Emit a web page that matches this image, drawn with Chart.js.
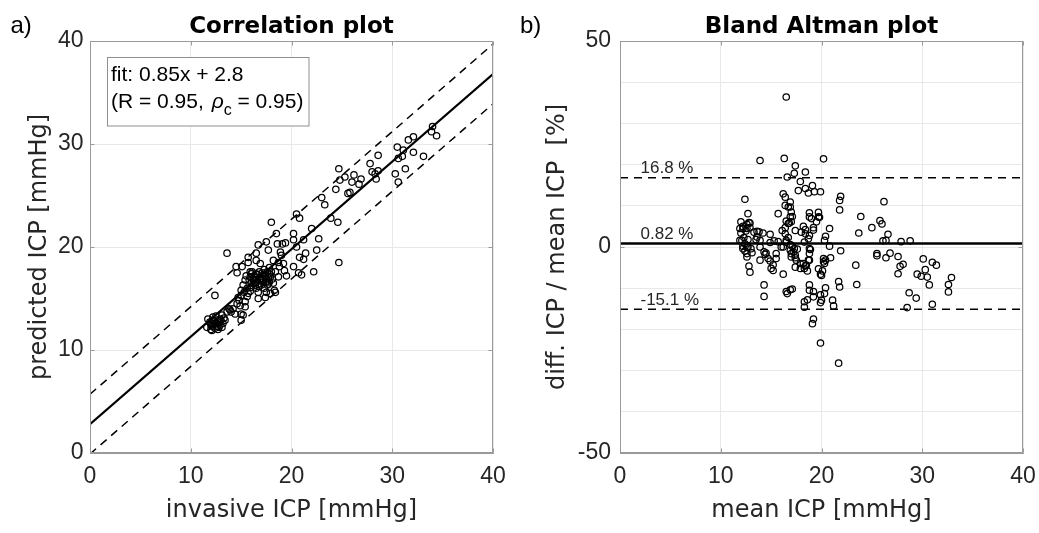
<!DOCTYPE html>
<html><head><meta charset="utf-8">
<script src="https://cdn.jsdelivr.net/npm/chart.js@4.4.1/dist/chart.umd.min.js"></script>
<style>
html,body{margin:0;padding:0;background:#fff;}
#wrap{position:relative;width:1039px;height:533px;overflow:hidden;background:#fff;}
.pane{position:absolute;top:0;height:533px;}
</style></head><body>
<div id="wrap">
<div class="pane" style="left:0;width:520px"><canvas id="c1"></canvas></div>
<div class="pane" style="left:515px;width:524px"><canvas id="c2"></canvas></div>
</div>
<script>
// ---------- data: correlation plot ----------
const corrInvasive = [34.0,33.9,34.4,33.1,32.1,31.6,32.1,30.5,31.1,30.6,31.0,31.3,30.3,30.6,28.6,27.8,28.0,28.6,28.4,28.3,26.9,26.2,26.7,26.0,25.8,24.7,24.8,25.3,24.4,23.0,23.3,23.9,24.6,24.7,22.0,22.7,22.5,22.2,20.5,20.8,20.2,20.2,20.5,20.8,21.2,21.2,21.4,20.7,21.0,20.2,19.5,18.0,18.5,19.1,18.9,18.7,19.2,18.2,17.7,16.7,16.5,15.7,17.5,13.6,14.5,15.1,15.9,16.5,17.4,17.9,15.5,16.2,17.0,17.5,15.2,16.0,16.7,17.6,18.3,17.5,16.7,15.7,15.0,14.7,15.4,14.9,15.4,12.4,14.2,13.9,13.6,15.0,15.2,13.1,12.9,12.2,11.7,12.6,12.0,11.6,12.4,12.9,13.2,13.4,12.1,12.7,15.7,16.5,14.6,15.4,15.9,16.2,16.5,16.9,17.2,17.5,17.9,16.4,17.0,17.7,18.4,18.8,19.3,18.7,18.4,17.4,17.9,15.0,16.7,14.4,15.0,16.0,16.8,17.3,16.3,17.1,18.1,12.3,12.8,11.9,13.0,12.5,16.9,17.8,19.0,18.6,19.4,25.6,16.1,16.4,16.6,16.9,17.1,17.4,17.7,17.8,16.3,16.8,17.3,15.8,16.0,17.6,18.0,18.2,15.6,15.9,16.5,17.2,12.1,12.3,12.6,12.8,12.4,12.0,13.1,12.7,13.3,12.2,13.8,14.0,14.6,14.8,15.3,15.6];
const corrPredicted = [31.7,31.2,30.8,28.8,30.7,30.4,29.2,29.7,29.4,28.6,28.8,27.6,27.1,26.3,28.9,28.1,27.3,27.4,26.6,27.1,26.6,27.0,26.1,26.3,25.3,27.6,26.5,26.8,25.6,24.8,24.1,22.8,22.4,18.5,21.8,20.8,19.7,17.6,23.2,22.8,21.3,20.7,20.0,19.0,20.7,18.8,19.4,17.5,17.3,18.1,17.2,22.4,21.3,20.3,19.5,18.5,18.4,18.7,19.7,20.2,19.4,19.0,20.5,19.4,18.1,18.1,17.6,17.4,17.2,17.1,17.2,16.8,16.8,16.6,16.3,16.1,16.4,16.3,15.8,15.6,15.6,15.5,15.3,15.1,14.7,14.3,14.2,15.3,14.0,13.9,13.7,13.5,13.4,13.4,13.0,12.9,13.0,12.6,12.4,12.2,12.1,12.4,12.6,12.9,11.9,12.7,18.5,18.7,17.5,16.8,17.1,16.9,16.8,17.1,17.3,16.9,17.3,16.3,16.3,16.4,17.6,18.1,17.7,17.1,15.6,15.1,15.5,15.8,15.0,13.5,12.9,17.4,17.6,17.8,17.2,16.6,16.9,12.5,12.2,12.7,12.9,13.3,18.4,18.0,19.2,20.3,20.4,25.2,17.6,17.0,17.3,16.9,17.5,16.6,17.0,16.6,16.5,16.2,16.0,16.8,16.5,17.6,17.6,16.5,16.0,15.7,16.0,16.9,12.3,12.8,12.3,12.8,12.6,12.0,12.2,12.0,13.1,13.2,14.0,13.7,14.5,14.8,15.6,15.2];
const fitLineX = [0, 40];
const fitLineY = [2.8, 36.8];
const upperLineY = [5.7, 39.7];
const lowerLineY = [-0.1, 33.9];
const fitText = ['fit: 0.85x + 2.8', '(R = 0.95, ', 'ρ', 'c', ' = 0.95)'];
const corrTicks = [0, 10, 20, 30, 40];

// ---------- data: Bland Altman plot ----------
const baMean = [16.5,13.9,16.3,20.2,17.4,18.4,17.3,16.6,17.9,19.1,17.7,18.4,18.7,19.3,19.9,21.9,16.2,16.4,12.4,26.2,16.9,16.4,16.9,17.0,21.8,15.7,12.7,18.8,19.7,19.0,19.8,23.9,25.8,26.0,12.0,12.8,12.6,12.9,16.5,16.8,17.1,11.9,12.2,12.5,13.3,13.6,13.8,14.2,14.9,16.1,16.4,17.4,18.2,18.4,19.2,18.8,20.8,20.4,23.7,25.0,26.6,26.1,26.4,27.9,28.8,11.9,12.3,12.7,12.2,12.6,13.0,13.5,13.9,14.9,15.3,15.7,16.2,16.5,16.7,16.9,17.1,17.3,17.6,18.3,18.8,18.9,20.8,21.9,25.5,25.5,26.8,26.4,12.4,12.6,13.1,13.9,14.5,14.4,14.9,15.2,15.5,17.0,17.4,17.5,17.9,18.2,18.4,18.8,18.6,20.2,20.4,20.9,23.4,27.6,27.8,28.1,27.6,30.1,30.3,31.0,31.4,29.5,29.9,30.5,30.7,32.9,32.6,32.6,12.8,12.9,16.2,19.7,19.9,20.1,14.3,14.3,16.5,16.6,16.9,17.1,18.8,19.2,19.9,20.4,21.7,21.1,18.3,18.6,19.9,23.5,28.7,29.4,28.5,31.0,19.2,19.1,19.9,21.7,12.2,12.0,12.6,12.9,12.1,12.4,12.2,12.7,12.6,13.6,13.9,14.3,14.7,15.0,15.2,15.5,16.0,16.4,16.5,16.7,16.9,17.0,16.7,16.9,17.2,17.0,17.4,17.4,17.9,18.3,18.5,18.7,18.8,18.0,18.4,18.7,19.2,19.5,18.8,19.7,20.3,20.2,20.3,20.0,20.3,20.0,18.8,19.2,18.3,21.8,21.2,21.8];
const baDiff = [36.4,21.0,21.5,21.4,19.7,18.2,17.9,17.0,15.9,14.9,13.7,14.2,13.1,13.4,13.4,12.3,12.9,12.1,11.6,11.0,10.9,10.1,9.7,8.5,9.0,8.1,8.1,8.3,8.4,6.9,7.2,7.4,6.4,5.6,6.1,5.9,5.5,5.8,6.3,5.8,7.4,4.5,4.4,3.9,3.6,3.8,3.7,3.4,3.1,4.0,4.7,4.0,5.0,4.2,4.7,2.8,4.5,2.6,3.4,4.7,3.1,1.5,1.6,1.3,1.5,1.6,2.3,1.8,0.2,-0.1,-0.4,1.8,0.0,1.1,1.5,1.3,0.0,1.2,2.3,0.6,0.2,-0.4,-0.5,1.2,-0.4,-0.6,0.2,-0.9,-1.6,-2.1,-1.5,-2.6,-1.0,-2.4,-1.4,-3.2,-1.5,-1.8,-3.4,-4.3,-1.6,-1.6,-2.6,-3.2,-4.0,-4.0,-4.6,-3.2,-5.8,-2.8,-3.2,-2.6,-4.4,-2.3,-4.7,-4.2,-6.5,-2.9,-5.5,-3.7,-4.4,-6.6,-7.1,-7.3,-9.2,-7.4,-9.1,-10.9,-4.6,-6.1,-6.6,-5.3,-6.6,-5.8,-9.2,-12.0,-10.8,-11.3,-10.4,-10.2,-9.2,-10.8,-11.6,-9.9,-8.4,-12.9,-13.3,-12.8,-13.5,-9.1,-11.1,-12.4,-14.7,-13.9,-17.5,-18.6,-23.3,-28.2,5.0,3.4,4.5,4.7,1.6,0.8,-0.4,0.0,-1.6,2.4,1.6,-1.2,-2.8,-5.2,-5.7,-2.8,0.0,3.2,1.6,5.7,7.3,6.1,9.7,-0.8,-1.2,-2.4,-2.0,-4.9,-5.2,-5.2,-4.4,-3.2,-1.6,3.6,3.2,2.0,4.1,6.1,7.3,7.3,1.6,-3.6,-4.0,-6.9,-11.3,-12.9,-10.5,-12.1,-14.6,-9.7,-14.3,11.3];
const baLineX = [0, 40];
const baMeanLine = 0.82;
const baUpperLine = 16.8;
const baLowerLine = -15.1;
const baLineLabels = ['16.8 %', '0.82 %', '-15.1 %'];
const baXTicks = [0, 10, 20, 30, 40];
const baYTicks = [-50, 0, 50];

// ---------- styling ----------
const TICK_FONT = {family: '"Liberation Sans", Arial, sans-serif', size: 23, lineHeight: 1};
const TITLE_FONT = {family: '"DejaVu Sans", sans-serif', size: 24, lineHeight: 1};
const GRID = {color: '#e8e8e8', lineWidth: 1, drawTicks: false};
const BORDER = {display: true, color: '#9a9a9a', width: 1};
const TXT = '#262626';

function pts(xs, ys) { return xs.map((x, i) => ({x: x, y: ys[i]})); }
function hline(xs, v) { return xs.map(x => ({x: x, y: v})); }

const decor = {
  id: 'decor',
  afterDraw(chart, args, o) {
    const ctx = chart.ctx, a = chart.chartArea;
    const xs = chart.scales.x, ys = chart.scales.y;
    ctx.save();
    if (o.lineLabels) {
      ctx.font = '17px "Liberation Sans", Arial, sans-serif';
      ctx.fillStyle = TXT; ctx.textAlign = 'left'; ctx.textBaseline = 'alphabetic';
      o.lineLabels.forEach(l => {
        ctx.fillText(l.text, a.left + 20.5, ys.getPixelForValue(l.value) - 4.5);
      });
    }
    if (o.note) {
      const bx = 107.5, by = 57.5, bw = 201.5, bh = 68.5;
      ctx.fillStyle = '#fff'; ctx.fillRect(bx, by, bw, bh);
      ctx.strokeStyle = '#8f8f8f'; ctx.lineWidth = 1; ctx.strokeRect(bx, by, bw, bh);
      ctx.fillStyle = '#000'; ctx.textAlign = 'left'; ctx.textBaseline = 'alphabetic';
      const f = '"Liberation Sans", Arial, sans-serif';
      ctx.font = '21px ' + f;
      ctx.fillText(o.note[0], 111, 80.5);
      let x = 111;
      ctx.fillText(o.note[1], x, 108); x += ctx.measureText(o.note[1]).width + 2;
      ctx.font = 'italic 21px ' + f;
      ctx.fillText(o.note[2], x, 108); x += ctx.measureText(o.note[2]).width;
      ctx.font = '16px ' + f;
      ctx.fillText(o.note[3], x, 114.5); x += ctx.measureText(o.note[3]).width;
      ctx.font = '21px ' + f;
      ctx.fillText(o.note[4], x, 108);
    }
    ctx.strokeStyle = '#9a9a9a'; ctx.lineWidth = 1;
    const L = Math.round(a.left) + 0.5, R = Math.round(a.right) - 0.5;
    const T = Math.round(a.top) + 0.5, B = Math.round(a.bottom) - 0.5;
    ctx.strokeRect(L, T, R - L, B - T);
    ctx.beginPath();
    xs.ticks.forEach(t => {
      if (t.label === '' || t.label === undefined) return;
      const p = Math.round(xs.getPixelForValue(t.value)) + 0.5;
      ctx.moveTo(p, B); ctx.lineTo(p, B - 4);
      ctx.moveTo(p, T); ctx.lineTo(p, T + 4);
    });
    ys.ticks.forEach(t => {
      if (t.label === '' || t.label === undefined) return;
      const p = Math.round(ys.getPixelForValue(t.value)) + 0.5;
      ctx.moveTo(L, p); ctx.lineTo(L + 4, p);
      ctx.moveTo(R, p); ctx.lineTo(R - 4, p);
    });
    ctx.stroke();
    ctx.fillStyle = '#000'; ctx.textBaseline = 'alphabetic';
    ctx.font = 'bold 23px "DejaVu Sans", sans-serif'; ctx.textAlign = 'center';
    ctx.fillText(o.title, (a.left + a.right) / 2, 33);
    ctx.font = '24px "Liberation Sans", Arial, sans-serif'; ctx.textAlign = 'left';
    ctx.fillText(o.letter, o.letterX, 32.5);
    ctx.restore();
  }
};

function scatterSet(data) {
  return {type: 'scatter', data: data, pointStyle: 'circle', pointRadius: 3.2, pointHoverRadius: 3.2,
          borderWidth: 1.25, borderColor: '#000', backgroundColor: 'rgba(0,0,0,0)', order: 1};
}
function lineSet(data, width, dash) {
  return {type: 'line', data: data, showLine: true, pointRadius: 0, borderColor: '#000',
          borderWidth: width, borderDash: dash, fill: false, tension: 0, order: 2};
}

function axis(min, max, step, titleText, titlePad, tickPad, isY, tickList, fitSize) {
  return {
    type: 'linear', min: min, max: max,
    afterFit: s => {
      if (isY) { s.width = fitSize; s.paddingTop = 0; s.paddingBottom = 0; }
      else { s.height = fitSize; s.paddingLeft = 0; s.paddingRight = 0; }
    },
    ticks: {stepSize: step, autoSkip: false, maxRotation: 0, color: TXT, font: TICK_FONT, padding: tickPad,
            callback: v => tickList.includes(v) ? String(v) : ''},
    grid: GRID, border: BORDER,
    title: {display: true, text: titleText, color: TXT, font: TITLE_FONT, padding: titlePad}
  };
}

Chart.defaults.animation = false;

new Chart(document.getElementById('c1'), {
  type: 'scatter',
  data: {datasets: [
    scatterSet(pts(corrInvasive, corrPredicted)),
    lineSet(pts(fitLineX, fitLineY), 2.2, []),
    lineSet(pts(fitLineX, upperLineY), 1.5, [8, 6]),
    lineSet(pts(fitLineX, lowerLineY), 1.5, [8, 6])
  ]},
  options: {
    responsive: true, maintainAspectRatio: false, animation: false,
    layout: {padding: {left: 0, right: 27, top: 41, bottom: 0}},
    plugins: {legend: {display: false}, tooltip: {enabled: false},
      decor: {title: 'Correlation plot', letter: 'a)', letterX: 10.5, note: fitText}},
    scales: {
      x: axis(0, 40, 10, 'invasive ICP [mmHg]', {top: 0, bottom: 10.5}, 12, false, corrTicks, 80),
      y: axis(0, 40, 10, 'predicted ICP [mmHg]', {top: 27.7, bottom: 0}, 6.5, true, corrTicks, 90)
    }
  },
  plugins: [decor]
});

new Chart(document.getElementById('c2'), {
  type: 'scatter',
  data: {datasets: [
    scatterSet(pts(baMean, baDiff)),
    lineSet(hline(baLineX, baMeanLine), 2.5, []),
    lineSet(hline(baLineX, baUpperLine), 1.5, [8, 6]),
    lineSet(hline(baLineX, baLowerLine), 1.5, [8, 6])
  ]},
  options: {
    responsive: true, maintainAspectRatio: false, animation: false,
    layout: {padding: {left: 0, right: 16, top: 41, bottom: 0}},
    plugins: {legend: {display: false}, tooltip: {enabled: false},
      decor: {title: 'Bland Altman plot', letter: 'b)', letterX: 5,
        lineLabels: [{text: baLineLabels[0], value: baUpperLine},
                     {text: baLineLabels[1], value: baMeanLine},
                     {text: baLineLabels[2], value: baLowerLine}]}},
    scales: {
      x: axis(0, 40, 10, 'mean ICP [mmHg]', {top: 0, bottom: 10.5}, 12, false, baXTicks, 80),
      y: axis(-50, 50, 10, 'diff. ICP / mean ICP  [%]', {top: 31, bottom: 0}, 9, true, baYTicks, 105)
    }
  },
  plugins: [decor]
});
</script>
</body></html>
